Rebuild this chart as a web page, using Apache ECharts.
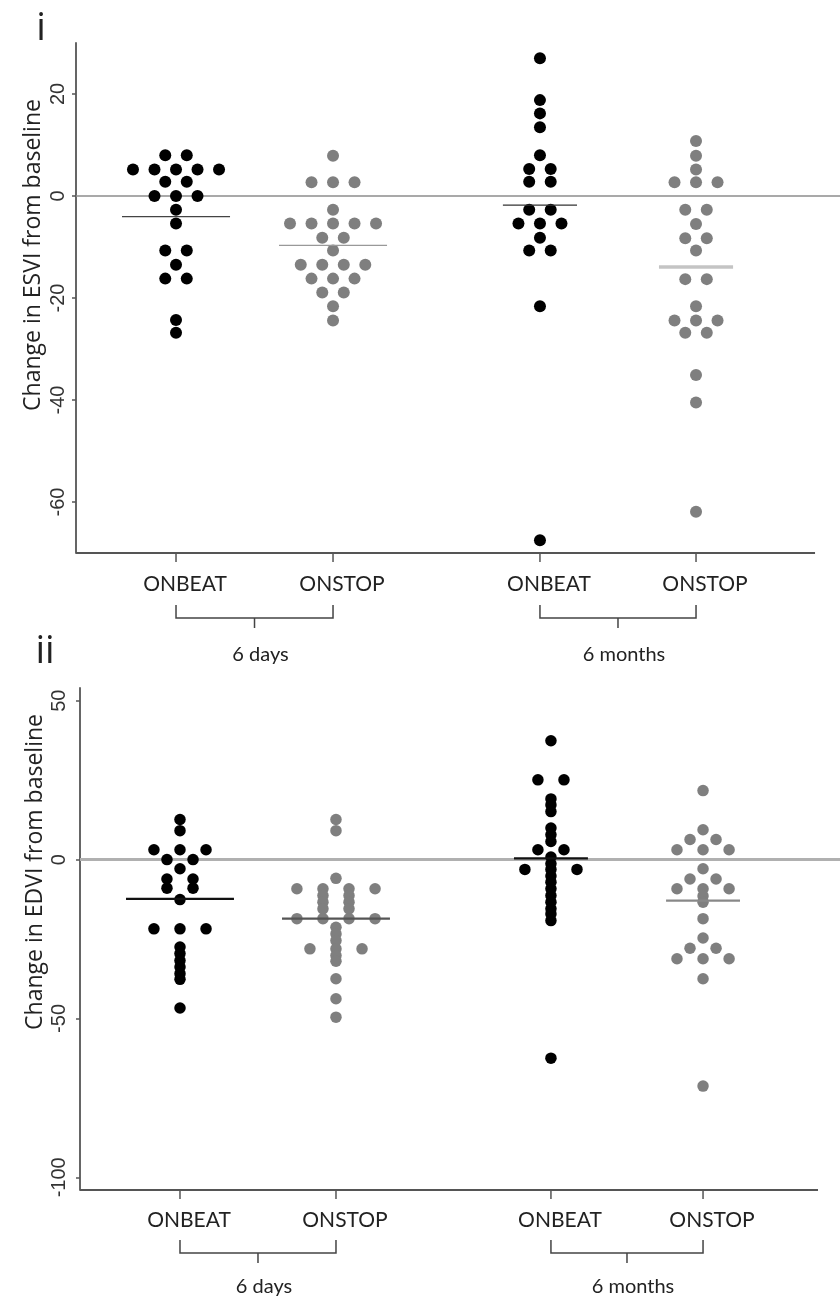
<!DOCTYPE html>
<html><head><meta charset="utf-8">
<script src="https://cdn.jsdelivr.net/npm/echarts@6/dist/echarts.min.js"></script>
<style>html,body{margin:0;padding:0;background:#fff}#c{width:840px;height:1302px}</style>
</head><body><div id="c"></div>
<script>
// ---------- data ----------
const categories = ['ONBEAT', 'ONSTOP', 'ONBEAT', 'ONSTOP'];
const periods = ['6 days', '6 months'];
const panelLabels = ['i', 'ii'];
const yNames = ['Change in ESVI from baseline', 'Change in EDVI from baseline'];
const esviTicks = [-60, -40, -20, 0, 20];
const edviTicks = [-100, -50, 0, 50];

const esviOnbeat6d = [8, 8, 5.2, 5.2, 5.2, 5.2, 5.2, 2.8, 2.8, 0, 0, 0, -2.7, -5.4, -10.7, -10.7, -13.5, -16.2, -16.2, -24.3, -26.8];
const esviOnstop6d = [7.9, 2.7, 2.7, 2.7, -2.7, -5.4, -5.4, -5.4, -5.4, -5.4, -8.2, -8.2, -10.7, -13.5, -13.5, -13.5, -13.5, -16.2, -16.2, -16.2, -18.9, -18.9, -21.6, -24.4];
const esviOnbeat6m = [27, 18.8, 16.2, 13.5, 8.0, 5.3, 5.3, 2.8, 2.8, -2.7, -2.7, -5.4, -5.4, -5.4, -8.2, -10.7, -10.7, -21.6, -67.5];
const esviOnstop6m = [10.8, 7.9, 5.2, 2.7, 2.7, 2.7, -2.7, -2.7, -5.5, -8.3, -8.3, -10.7, -16.3, -16.3, -21.6, -24.4, -24.4, -24.4, -26.8, -26.8, -35.1, -40.5, -61.9];
const esviMeans = [-4.05, -9.7, -1.8, -13.9];

const edviOnbeat6d = [12.6, 9.1, 3.1, 3.1, 3.1, 0, 0, -2.9, -6.1, -6.1, -9.0, -9.0, -12.6, -21.8, -21.8, -21.8, -27.5, -29.6, -31.8, -33.8, -35.9, -37.7, -46.7];
const edviOnstop6d = [12.6, 9.1, -5.9, -9.2, -9.2, -9.2, -9.2, -11.3, -11.3, -13.4, -13.4, -15.5, -15.5, -18.6, -18.6, -18.6, -18.6, -21.3, -23.4, -25.5, -28.1, -28.1, -28.1, -30.2, -32.0, -37.5, -43.8, -49.6];
const edviOnbeat6m = [37.4, 25.1, 25.1, 19.1, 17.2, 15.1, 9.9, 7.8, 5.7, 3.1, 3.1, 0.8, -1.3, -3.1, -3.1, -3.1, -5.2, -7.1, -9.2, -11.3, -13.4, -15.5, -17.1, -19.2, -62.5];
const edviOnstop6m = [21.7, 9.4, 6.3, 6.3, 3.1, 3.1, 3.1, -2.9, -6.1, -6.1, -9.2, -9.2, -9.2, -11.5, -13.4, -18.6, -24.7, -27.9, -27.9, -31.2, -31.2, -31.2, -37.5, -71.3];
const edviMeans = [-12.4, -18.6, 0.4, -12.9];

// ---------- layout / style ----------
const panels = [
  {
    groups: [esviOnbeat6d, esviOnstop6d, esviOnbeat6m, esviOnstop6m], means: esviMeans, ticks: esviTicks,
    grid: { left: 76, top: 43, width: 764, height: 510 },
    xMin: 0.363, xMax: 5.229, xEnd: 5.07, yMin: -70, yMax: 30,
    pos: [1, 2, 3.318, 4.312], spacing: 0.137, symbolSize: 12,
    meanHalf: [0.344, 0.344, 0.236, 0.236],
    meanStyle: [{ c: '#444', w: 1.2 }, { c: '#999', w: 1.2 }, { c: '#333', w: 1.2 }, { c: '#c4c4c4', w: 3.5 }],
    zero: { c: '#8c8c8c', w: 1.5 },
    labelMargin: 8, labelDy: 31, brTop: 52, brBot: 65, brTick: 75, periodDy: 102,
    nameX: 33, nameY: 255, tagX: 41, tagY: 29
  },
  {
    groups: [edviOnbeat6d, edviOnstop6d, edviOnbeat6m, edviOnstop6m], means: edviMeans, ticks: edviTicks,
    grid: { left: 80, top: 688, width: 760, height: 502 },
    xMin: 0.359, xMax: 5.231, xEnd: 5.09, yMin: -104, yMax: 54,
    pos: [1, 2, 3.378, 4.353], spacing: 0.167, symbolSize: 11.5,
    meanHalf: [0.346, 0.346, 0.237, 0.237],
    meanStyle: [{ c: '#111', w: 2.2 }, { c: '#555', w: 2.2 }, { c: '#111', w: 2.2 }, { c: '#888', w: 2.2 }],
    zero: { c: '#b0b0b0', w: 3 },
    labelMargin: 11, labelDy: 30, brTop: 50, brBot: 63, brTick: 73, periodDy: 97,
    nameX: 35, nameY: 872, tagX: 45, tagY: 652
  }
];
const dotColors = ['#000000', '#7f7f7f', '#000000', '#7f7f7f'];
const catFont = '21px Lato, "Open Sans", sans-serif';
const periodFont = '20px Lato, "Open Sans", sans-serif';
const axisColor = '#555';

// beeswarm (center method): identical values share a row, spread symmetrically
function swarm(values, center, spacing) {
  const rows = new Map();
  values.forEach(v => { rows.set(v, (rows.get(v) || 0) + 1); });
  const out = [];
  rows.forEach((n, v) => {
    for (let i = 0; i < n; i++) out.push([center + (i - (n - 1) / 2) * spacing, v]);
  });
  return out;
}

const grids = [], xAxes = [], yAxes = [], series = [], graphics = [];
panels.forEach((p, pi) => {
  grids.push(p.grid);
  xAxes.push({
    gridIndex: pi, type: 'value', min: p.xMin, max: p.xMax,
    axisLine: { show: false }, axisTick: { show: false }, axisLabel: { show: false }, splitLine: { show: false }
  });
  yAxes.push({
    gridIndex: pi, type: 'value', min: p.yMin, max: p.yMax,
    axisLine: { show: true, lineStyle: { color: axisColor, width: 1.8 } },
    axisTick: { show: true, length: 4, customValues: p.ticks, lineStyle: { color: axisColor, width: 1.5 } },
    axisLabel: { customValues: p.ticks, rotate: 90, margin: p.labelMargin, fontFamily: '"Liberation Sans", Arial, sans-serif', fontSize: 20, color: '#333' },
    splitLine: { show: false }
  });
  p.groups.forEach((vals, gi) => {
    const s = {
      type: 'scatter', xAxisIndex: pi, yAxisIndex: pi, z: 3,
      symbol: 'circle', symbolSize: p.symbolSize,
      itemStyle: { color: dotColors[gi], opacity: 1 },
      data: swarm(vals, p.pos[gi], p.spacing), silent: true
    };
    if (gi === 0) {
      s.markLine = {
        silent: true, symbol: 'none', label: { show: false }, z: 1,
        lineStyle: { color: p.zero.c, width: p.zero.w, type: 'solid' },
        data: [{ yAxis: 0 }]
      };
    }
    series.push(s);
  });
  // mean lines
  series.push({
    type: 'custom', xAxisIndex: pi, yAxisIndex: pi, z: 5, silent: true,
    data: p.means.map((m, i) => [p.pos[i], m, i]),
    renderItem: (params, api) => {
      const i = api.value(2);
      const a = api.coord([api.value(0) - p.meanHalf[i], api.value(1)]);
      const b = api.coord([api.value(0) + p.meanHalf[i], api.value(1)]);
      return { type: 'line', shape: { x1: a[0], y1: a[1], x2: b[0], y2: b[1] }, style: { stroke: p.meanStyle[i].c, lineWidth: p.meanStyle[i].w } };
    }
  });
  // x axis line, ticks, category labels, brackets, period labels
  series.push({
    type: 'custom', xAxisIndex: pi, yAxisIndex: pi, z: 4, silent: true, clip: false,
    data: [[p.xMin, p.yMin]],
    renderItem: (params, api) => {
      const ch = [];
      const a = api.coord([p.xMin, p.yMin]);
      const b = api.coord([p.xEnd, p.yMin]);
      const ay = a[1];
      ch.push({ type: 'line', shape: { x1: a[0], y1: ay, x2: b[0], y2: ay }, style: { stroke: axisColor, lineWidth: 1.8 } });
      p.pos.forEach((x, i) => {
        const c = api.coord([x, p.yMin]);
        ch.push({ type: 'line', shape: { x1: c[0], y1: ay, x2: c[0], y2: ay + 9 }, style: { stroke: axisColor, lineWidth: 1.5 } });
        ch.push({ type: 'text', style: { text: categories[i], x: c[0] + 9, y: ay + p.labelDy, align: 'center', verticalAlign: 'middle', font: catFont, fill: '#222' } });
      });
      for (let g = 0; g < 2; g++) {
        const l = api.coord([p.pos[2 * g], p.yMin])[0];
        const r = api.coord([p.pos[2 * g + 1], p.yMin])[0];
        const m = (l + r) / 2;
        const st = { stroke: '#444', lineWidth: 1.5 };
        ch.push({ type: 'polyline', shape: { points: [[l, ay + p.brTop], [l, ay + p.brBot], [r, ay + p.brBot], [r, ay + p.brTop]] }, style: Object.assign({ fill: null }, st) });
        ch.push({ type: 'line', shape: { x1: m, y1: ay + p.brBot, x2: m, y2: ay + p.brTick }, style: st });
        ch.push({ type: 'text', style: { text: periods[g], x: m + 6, y: ay + p.periodDy, align: 'center', verticalAlign: 'middle', font: periodFont, fill: '#222' } });
      }
      return { type: 'group', children: ch };
    }
  });
  graphics.push({
    type: 'text', x: p.nameX, y: p.nameY, rotation: Math.PI / 2,
    style: { text: yNames[pi], align: 'center', verticalAlign: 'middle', font: '23px "Open Sans", sans-serif', fill: '#222' }
  });
  graphics.push({
    type: 'text', x: p.tagX, y: p.tagY,
    style: { text: panelLabels[pi], align: 'center', verticalAlign: 'middle', font: '38px "Open Sans", sans-serif', fill: '#222' }
  });
});

const chart = echarts.init(document.getElementById('c'), null, { renderer: 'canvas' });
chart.setOption({
  animation: false,
  backgroundColor: '#ffffff',
  grid: grids, xAxis: xAxes, yAxis: yAxes, series: series, graphic: graphics
});
</script>
</body></html>
